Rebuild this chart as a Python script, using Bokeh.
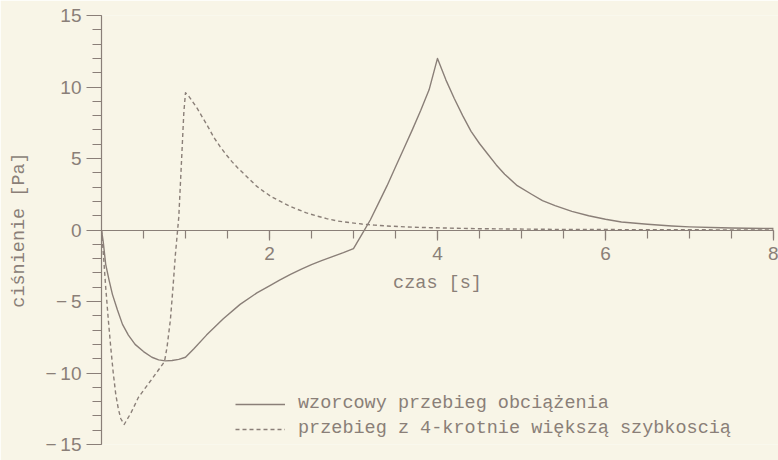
from bokeh.plotting import figure
from bokeh.models import (LinearAxis, FixedTicker, SingleIntervalTicker,
                          CustomJSTickFormatter, Legend, LegendItem, Range1d)
from bokeh.embed import file_html
from bokeh.resources import INLINE

# pressure response to the reference load history
t_ref = [0.0, 0.02, 0.05, 0.09, 0.13, 0.19, 0.25, 0.32, 0.40, 0.50, 0.60, 0.68,
         0.76, 0.84, 0.92, 1.0, 1.05, 1.1, 1.25, 1.45, 1.65, 1.85, 2.0, 2.12,
         2.25, 2.38, 2.5, 2.62, 2.75, 2.88, 3.0, 3.1, 3.2, 3.3, 3.4, 3.5, 3.6,
         3.7, 3.8, 3.9, 4.0, 4.1, 4.2, 4.3, 4.4, 4.5, 4.6, 4.7, 4.8, 4.95, 5.12,
         5.25, 5.4, 5.6, 5.8, 6.0, 6.19, 6.5, 6.79, 7.0, 7.38, 7.5, 8.0]
p_ref = [0.0, -0.8, -2.4, -3.5, -4.5, -5.6, -6.6, -7.35, -8.0, -8.5, -8.9, -9.08,
         -9.15, -9.13, -9.05, -8.9, -8.6, -8.3, -7.35, -6.2, -5.2, -4.4, -3.9, -3.5,
         -3.1, -2.73, -2.42, -2.14, -1.86, -1.58, -1.3, -0.3, 0.7, 1.9, 3.1, 4.4, 5.7,
         7.0, 8.35, 9.8, 12.0, 10.5, 9.2, 8.0, 6.9, 6.05, 5.3, 4.55, 3.9, 3.1, 2.5,
         2.05, 1.7, 1.3, 1.0, 0.75, 0.56, 0.4, 0.28, 0.22, 0.16, 0.14, 0.1]

# pressure response when the load is applied four times faster
t_fast = [0.0, 0.02, 0.05, 0.08, 0.11, 0.14, 0.17, 0.20, 0.23, 0.27, 0.30, 0.35,
          0.44, 0.54, 0.64, 0.75, 0.78, 0.82, 0.85, 0.88, 0.92, 0.95, 0.98, 1.0,
          1.04, 1.07, 1.14, 1.2, 1.27, 1.34, 1.41, 1.48, 1.55, 1.62, 1.7, 1.78,
          1.85, 1.93, 2.03, 2.13, 2.23, 2.33, 2.44, 2.55, 2.68, 2.81, 2.95, 3.1,
          3.25, 3.4, 3.65, 3.92, 4.5, 5.5, 8.0]
p_fast = [0.0, -1.5, -4.0, -6.2, -8.2, -10.0, -11.5, -12.5, -13.2, -13.6, -13.3,
          -12.8, -11.7, -10.9, -10.1, -9.2, -8.2, -6.3, -4.1, -1.7, 0.9, 4.5, 8.2,
          9.6, 9.35, 9.1, 8.5, 7.9, 7.2, 6.45, 5.85, 5.3, 4.8, 4.35, 3.9, 3.45,
          3.05, 2.7, 2.3, 2.0, 1.7, 1.45, 1.2, 1.0, 0.8, 0.63, 0.52, 0.42,
          0.34, 0.28, 0.21, 0.16, 0.09, 0.04, 0.0]

x_major = [2, 4, 6, 8]
x_minor = [0.5, 1, 1.5, 2, 2.5, 3, 3.5, 4, 4.5, 5, 5.5, 6, 6.5, 7, 7.5, 8]

label_ref = "wzorcowy przebieg obciążenia"
label_fast = "przebieg z 4-krotnie większą szybkoscią"

paper = "#f8f5e7"
ink = "#8a7f78"
mono = "Liberation Mono"
sans = "Liberation Sans"

p = figure(width=778, height=460, output_backend="svg", toolbar_location=None,
           x_range=Range1d(0, 8.06), y_range=Range1d(-15, 15),
           x_axis_location=None,
           min_border_left=101, min_border_right=0,
           min_border_top=15, min_border_bottom=16)
p.background_fill_color = paper
p.border_fill_color = paper
p.outline_line_color = None
p.grid.visible = False

# vertical axis on the left edge
ya = p.yaxis[0]
ya.ticker = SingleIntervalTicker(interval=5, num_minor_ticks=5)
ya.formatter = CustomJSTickFormatter(
    code="return tick < 0 ? '\u2212\u2009' + Math.abs(tick) : String(tick);")
ya.axis_label = "ciśnienie [Pa]"
ya.axis_label_text_font = mono
ya.axis_label_text_font_size = "18.5px"
ya.axis_label_text_font_style = "normal"
ya.axis_label_text_color = ink
ya.axis_label_standoff = 12
ya.major_label_text_font = sans
ya.major_label_text_font_size = "19px"
ya.major_label_text_color = ink
ya.major_label_standoff = 5
ya.axis_line_color = ink
ya.major_tick_line_color = ink
ya.minor_tick_line_color = ink
ya.major_tick_in = 0
ya.major_tick_out = 15
ya.minor_tick_in = 0
ya.minor_tick_out = 9
ya.axis_line_width = 1.2
ya.major_tick_line_width = 1.2
ya.minor_tick_line_width = 1.2

# time axis running through zero pressure
xa = LinearAxis(fixed_location=0, bounds=(0, 8),
                ticker=FixedTicker(ticks=x_major, minor_ticks=x_minor))
xa.axis_label = "czas [s]"
xa.axis_label_text_font = mono
xa.axis_label_text_font_size = "18.5px"
xa.axis_label_text_font_style = "normal"
xa.axis_label_text_color = ink
xa.axis_label_standoff = 9
xa.major_label_text_font = sans
xa.major_label_text_font_size = "19px"
xa.major_label_text_color = ink
xa.major_label_standoff = 7
xa.axis_line_color = ink
xa.major_tick_line_color = ink
xa.minor_tick_line_color = ink
xa.major_tick_in = 0
xa.major_tick_out = 10
xa.minor_tick_in = 0
xa.minor_tick_out = 8
xa.axis_line_width = 1.2
xa.major_tick_line_width = 1.2
xa.minor_tick_line_width = 1.2
p.add_layout(xa, "below")

r_ref = p.line(t_ref, p_ref, line_color=ink, line_width=1.4, line_join="round")
r_fast = p.line(t_fast, p_fast, line_color=ink, line_width=1.4,
                line_dash="4 3", line_join="round")

legend = Legend(items=[LegendItem(label=label_ref, renderers=[r_ref]),
                       LegendItem(label=label_fast, renderers=[r_fast])],
                location=(134, 5), orientation="vertical",
                glyph_width=50, glyph_height=20, label_height=20,
                label_standoff=13, spacing=4, padding=0, margin=0,
                label_text_font=mono, label_text_font_size="18.5px",
                label_text_color=ink,
                background_fill_alpha=0, border_line_alpha=0)
p.add_layout(legend)

open("out.html", "w").write(file_html(p, INLINE))
